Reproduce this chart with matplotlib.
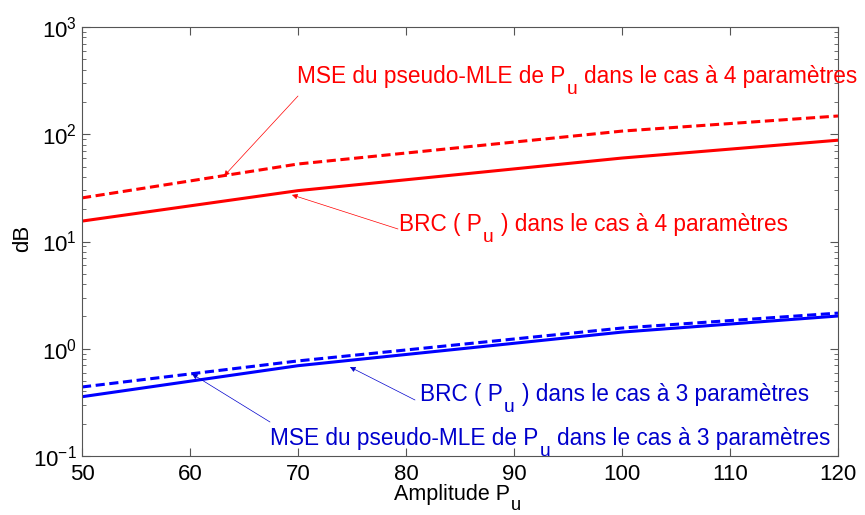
import matplotlib
matplotlib.use("Agg")
import matplotlib.pyplot as plt
from matplotlib.ticker import LogLocator

plt.rcParams['font.family'] = ['Liberation Sans', 'DejaVu Sans']
plt.rcParams['mathtext.fontset'] = 'custom'
plt.rcParams['mathtext.rm'] = 'Liberation Sans'
plt.rcParams['mathtext.default'] = 'regular'

x = [50, 70, 100, 120]
mse4 = [25.5, 52.8, 107, 148]
brc4 = [15.5, 29.8, 60, 88]
mse3 = [0.44, 0.77, 1.56, 2.15]
brc3 = [0.357, 0.695, 1.43, 2.02]

xticks = [50, 60, 70, 80, 90, 100, 110, 120]

W, H = 865, 515
fig = plt.figure(figsize=(W / 100, H / 100), dpi=100)
ax = fig.add_axes([82 / W, 1 - 456 / H, (838 - 82) / W, (456 - 27) / H])

ax.plot(x, mse4, color='red', ls=(0, (3, 1.5)), lw=2.2)
ax.plot(x, brc4, color='red', ls='-', lw=2.2)
ax.plot(x, mse3, color='blue', ls=(0, (3, 1.5)), lw=2.2)
ax.plot(x, brc3, color='blue', ls='-', lw=2.2)

ax.set_yscale('log')
ax.set_xlim(50, 120)
ax.set_ylim(0.1, 1000)
ax.set_xticks(xticks)
ax.yaxis.set_major_locator(LogLocator(base=10, numticks=10))
ax.yaxis.set_minor_locator(LogLocator(base=10, subs=range(2, 10), numticks=20))

ax.tick_params(which='both', direction='in', top=True, right=True, labelsize=16,
               colors='#555555', labelcolor='black')
ax.tick_params(axis='x', pad=6)
ax.tick_params(which='major', length=6)
ax.tick_params(which='minor', length=3)
for s in ax.spines.values():
    s.set_color('#555555')

fig.text(23 / W, 1 - 238 / H, "dB", rotation=90, ha='center', va='center', fontsize=16)

renderer = fig.canvas.get_renderer()
SPACE = 0.278


def rich(xpx, ybase, before, after, color, fs, drop, gap_after=True):
    t1 = fig.text(xpx / W, 1 - ybase / H, before, color=color, fontsize=fs,
                  ha='left', va='baseline')
    w1 = t1.get_window_extent(renderer).width
    xu = xpx + w1 + 1
    t2 = fig.text(xu / W, 1 - (ybase + drop) / H, "u", color=color, fontsize=fs * 0.85,
                  ha='left', va='baseline')
    w2 = t2.get_window_extent(renderer).width
    sp = SPACE * fs * 100 / 72
    x3 = xu + w2 + (sp if gap_after else 0) + 1
    if after:
        fig.text(x3 / W, 1 - ybase / H, after, color=color, fontsize=fs,
                 ha='left', va='baseline')


# x label
rich(394, 500, "Amplitude P", "", 'black', 15.5, 10, gap_after=False)

fs = 16.3
rich(297, 83, "MSE du pseudo-MLE de P", "dans le cas à 4 paramètres", 'red', fs, 11)
rich(399, 231, "BRC ( P", ") dans le cas à 4 paramètres", 'red', fs, 11)
rich(420, 401, "BRC ( P", ") dans le cas à 3 paramètres", '#0000cc', fs, 11)
rich(270, 445, "MSE du pseudo-MLE de P", "dans le cas à 3 paramètres", '#0000cc', fs, 11)

apr = dict(arrowstyle='-|>', color='red', lw=0.5, mutation_scale=8, shrinkA=0, shrinkB=0)
apb = dict(arrowstyle='-|>', color='#0000cc', lw=0.5, mutation_scale=8, shrinkA=0, shrinkB=0)

ax.annotate("", xy=(63.15, 40.8), xytext=(298 / W, 1 - 96 / H), textcoords='figure fraction', arrowprops=apr)
ax.annotate("", xy=(69.44, 27.2), xytext=(398 / W, 1 - 229 / H), textcoords='figure fraction', arrowprops=apr)
ax.annotate("", xy=(74.81, 0.676), xytext=(415 / W, 1 - 400 / H), textcoords='figure fraction', arrowprops=apb)
ax.annotate("", xy=(60.19, 0.582), xytext=(270 / W, 1 - 422 / H), textcoords='figure fraction', arrowprops=apb)

fig.savefig("out.png", dpi=100)
